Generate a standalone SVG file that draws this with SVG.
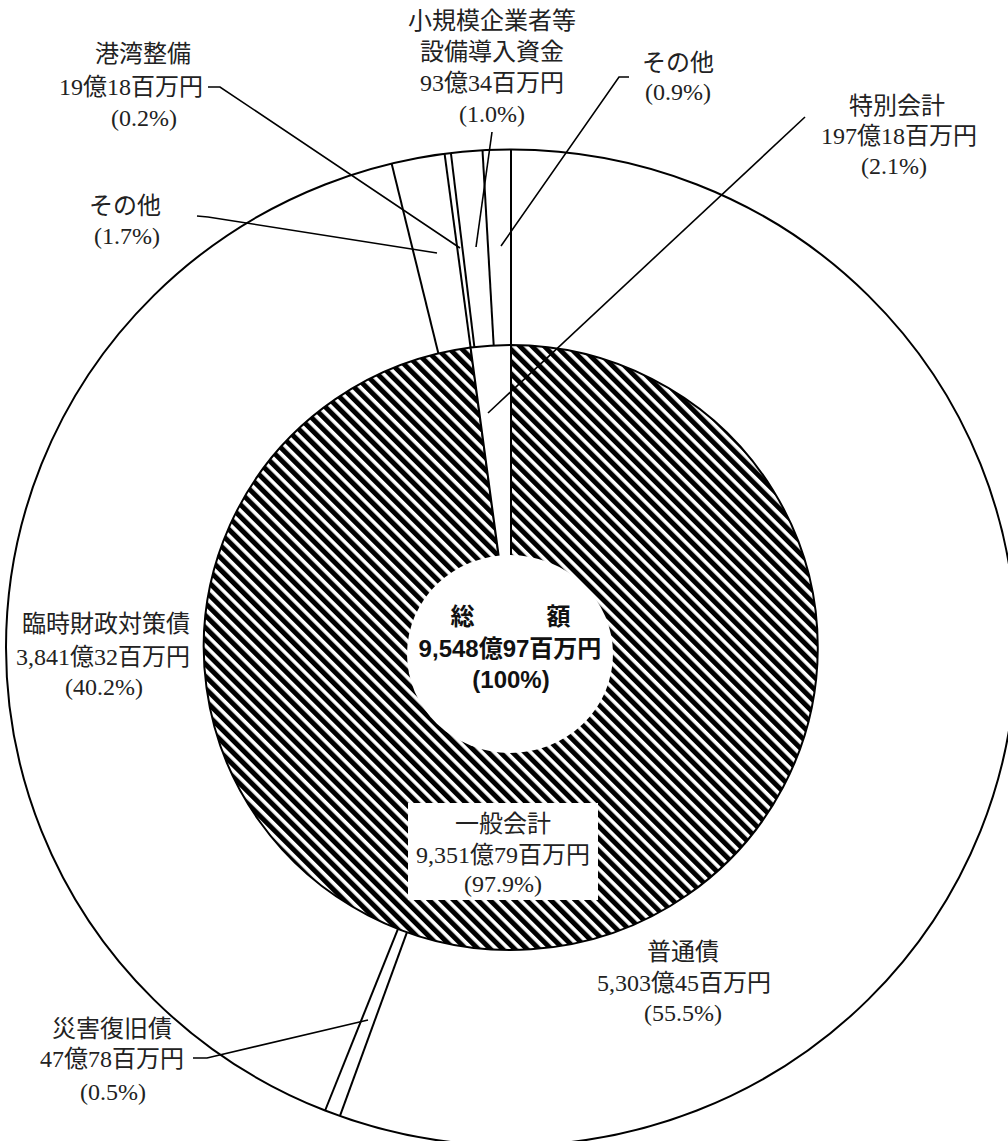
<svg xmlns="http://www.w3.org/2000/svg" width="1008" height="1141" viewBox="0 0 1008 1141">
<style>
.lbl{font-family:"Liberation Serif","Noto Sans CJK JP",serif;font-size:24px;fill:#222;text-anchor:middle}
.ctr{font-family:"Liberation Sans","Noto Sans CJK JP",sans-serif;font-size:24px;font-weight:bold;fill:#111;text-anchor:middle}
.seg{stroke:#000;stroke-width:2;fill:none}
.lead{stroke:#000;stroke-width:1.6;fill:none}
</style>
<defs>
<pattern id="hatch" width="8.6" height="20" patternUnits="userSpaceOnUse" patternTransform="rotate(-45)">
<rect width="8.6" height="20" fill="#fff"/>
<rect width="5" height="20" fill="#000"/>
</pattern>
</defs>
<rect width="1008" height="1141" fill="#fff"/>
<g id="outer-ring">
<ellipse cx="511" cy="647.5" rx="505" ry="498" fill="#fff" stroke="#000" stroke-width="2"/>
<line class="seg" x1="511" y1="345" x2="511" y2="149.5"/>
<line class="seg" x1="407.0" y1="932.1" x2="339.9" y2="1116.1"/>
<line class="seg" x1="398.0" y1="928.8" x2="325.1" y2="1110.5"/>
<line class="seg" x1="438.4" y1="353.6" x2="391.6" y2="163.6"/>
<line class="seg" x1="470.6" y1="347.6" x2="444.6" y2="153.8"/>
<line class="seg" x1="474.4" y1="347.2" x2="450.9" y2="153.0"/>
<line class="seg" x1="493.7" y1="345.5" x2="482.5" y2="150.3"/>
</g>
<g id="inner-ring">
<path d="M511,647.5 L511,345 A307,302.5 0 1 1 470.6,347.6 Z" fill="url(#hatch)" stroke="#000" stroke-width="2"/>
<path d="M511,647.5 L470.6,347.6 A307,302.5 0 0 1 511,345 Z" fill="#fff" stroke="#000" stroke-width="2"/>
</g>
<g id="total">
<ellipse cx="510" cy="654" rx="103" ry="99" fill="#fff"/>
<text class="ctr" x="510.5" y="625">総　　　額</text>
<text class="ctr" x="510" y="657">9,548億97百万円</text>
<text class="ctr" x="511" y="688">(100%)</text>
</g>
<g id="connectors">
<polyline class="lead" points="492,132 476,247"/>
<polyline class="lead" points="629,77 619,77 501,246"/>
<polyline class="lead" points="805,117 488,413"/>
<polyline class="lead" points="208,87 220,87 460,248"/>
<polyline class="lead" points="197,216 208,217 437,253"/>
<polyline class="lead" points="193,1058 207,1058 368,1020"/>
</g>
<g id="label-shokibo">
<text class="lbl" x="492" y="29">小規模企業者等</text>
<text class="lbl" x="492" y="60">設備導入資金</text>
<text class="lbl" x="492" y="91">93億34百万円</text>
<text class="lbl" x="492" y="122">(1.0%)</text>
</g>
<g id="label-kowan">
<text class="lbl" x="143" y="62">港湾整備</text>
<text class="lbl" x="131" y="95">19億18百万円</text>
<text class="lbl" x="144" y="126">(0.2%)</text>
</g>
<g id="label-sonota1">
<text class="lbl" x="678" y="71">その他</text>
<text class="lbl" x="678" y="100">(0.9%)</text>
</g>
<g id="label-tokubetsu">
<text class="lbl" x="897" y="114">特別会計</text>
<text class="lbl" x="899" y="144">197億18百万円</text>
<text class="lbl" x="894" y="174">(2.1%)</text>
</g>
<g id="label-sonota2">
<text class="lbl" x="125" y="214">その他</text>
<text class="lbl" x="127" y="244">(1.7%)</text>
</g>
<g id="label-rinji">
<text class="lbl" x="106" y="632">臨時財政対策債</text>
<text class="lbl" x="103" y="665">3,841億32百万円</text>
<text class="lbl" x="104" y="695">(40.2%)</text>
</g>
<g id="label-saigai">
<text class="lbl" x="112" y="1037">災害復旧債</text>
<text class="lbl" x="112" y="1067">47億78百万円</text>
<text class="lbl" x="113" y="1100">(0.5%)</text>
</g>
<g id="label-ippan">
<rect x="408" y="803" width="190" height="97" fill="#fff"/>
<text class="lbl" x="503" y="832">一般会計</text>
<text class="lbl" x="503" y="863">9,351億79百万円</text>
<text class="lbl" x="503" y="892">(97.9%)</text>
</g>
<g id="label-futsu">
<text class="lbl" x="683" y="960">普通債</text>
<text class="lbl" x="684" y="991">5,303億45百万円</text>
<text class="lbl" x="683" y="1021">(55.5%)</text>
</g>
</svg>
